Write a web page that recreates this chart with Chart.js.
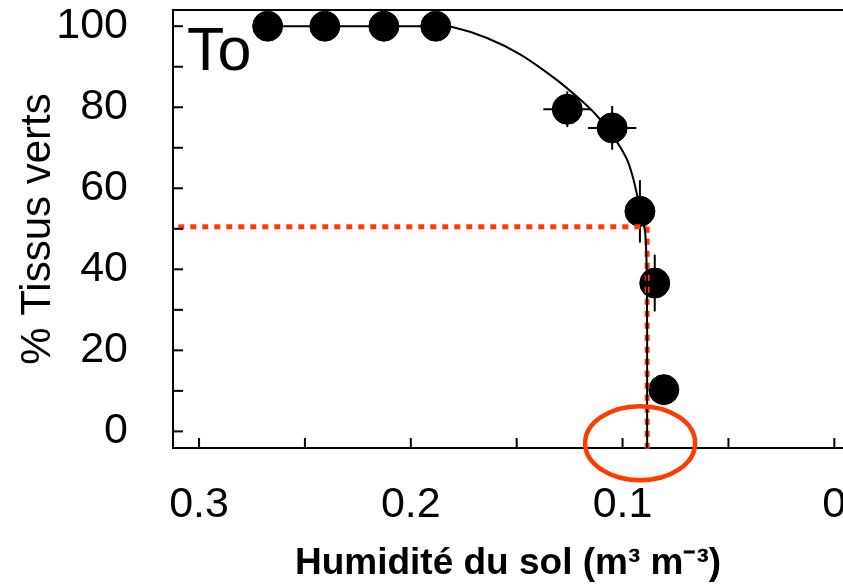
<!DOCTYPE html>
<html>
<head>
<meta charset="utf-8">
<script src="https://cdn.jsdelivr.net/npm/chart.js@4.4.0/dist/chart.umd.min.js"></script>
<style>
  html, body { margin: 0; padding: 0; background: #fff; }
  #wrap { width: 843px; height: 588px; }
</style>
</head>
<body>
<div id="wrap"><canvas id="soilChart" width="843" height="588"></canvas></div>
<script>
// measured points (soil moisture vs % green tissue) + error bars
const moisture    = [0.2676, 0.2406, 0.2127, 0.1882, 0.1261, 0.1049, 0.0918, 0.0848, 0.0805];
const greenTissue = [100, 100, 100, 100, 79.5, 74.9, 54.3, 36.6, 10.3];
const errMoisture = [0, 0, 0, 0, 0.0113, 0.0114, 0, 0, 0];
const errGreen    = [0, 0, 0, 0, 4.4, 5.4, 7.7, 7, 0];

// fitted curve
const fitMoisture = [0.2676, 0.2200, 0.1882, 0.1804, 0.1640, 0.1482, 0.1325, 0.1200, 0.1121, 0.1040, 0.0979, 0.0950, 0.0932, 0.0910, 0.0893, 0.0886, 0.0884, 0.0884, 0.0884];
const fitGreen    = [100, 100, 100, 99.8, 97.1, 93.0, 87.3, 81.9, 77.9, 72.5, 67.1, 62.5, 58.5, 53.5, 49, 40, 25, 10, -4.1];

// 50% threshold lines
const halfLevel = 50.5;
const halfMoisture = 0.0884;
const guideStart = 0.3098;
const guideBottom = -5.5;

// tick label values
const xLabelTicks = [0.3, 0.2, 0.1, 0];
const yLabelTicks = [0, 20, 40, 60, 80, 100];

const RED = '#ff3c00';
const FONT = '"Liberation Sans", Arial, sans-serif';

const toXY = (xs, ys) => xs.map((x, i) => ({ x: x, y: ys[i] }));

// inward ticks, top frame line, error bars, "To" label and the red ellipse
const decorations = {
  id: 'decorations',
  beforeDatasetsDraw(chart) {
    const ctx = chart.ctx;
    const xs = chart.scales.x, ys = chart.scales.y;
    ctx.save();
    ctx.strokeStyle = '#000';
    ctx.lineWidth = 2;
    moisture.forEach((m, i) => {
      const px = xs.getPixelForValue(m), py = ys.getPixelForValue(greenTissue[i]);
      if (errMoisture[i]) {
        ctx.beginPath();
        ctx.moveTo(xs.getPixelForValue(m - errMoisture[i]), py);
        ctx.lineTo(xs.getPixelForValue(m + errMoisture[i]), py);
        ctx.stroke();
      }
      if (errGreen[i]) {
        ctx.beginPath();
        ctx.moveTo(px, ys.getPixelForValue(greenTissue[i] - errGreen[i]));
        ctx.lineTo(px, ys.getPixelForValue(greenTissue[i] + errGreen[i]));
        ctx.stroke();
      }
    });
    ctx.restore();
  },
  afterDraw(chart) {
    const ctx = chart.ctx;
    const area = chart.chartArea;
    const xs = chart.scales.x, ys = chart.scales.y;
    ctx.save();
    ctx.strokeStyle = '#000';
    ctx.lineWidth = 2;
    // ticks pointing inside the plot
    xs.ticks.forEach(t => {
      const px = xs.getPixelForValue(t.value);
      ctx.beginPath();
      ctx.moveTo(px, area.bottom);
      ctx.lineTo(px, area.bottom - 10);
      ctx.stroke();
    });
    ys.ticks.forEach(t => {
      const py = ys.getPixelForValue(t.value);
      ctx.beginPath();
      ctx.moveTo(area.left, py);
      ctx.lineTo(area.left + 10, py);
      ctx.stroke();
    });
    // top frame
    ctx.beginPath();
    ctx.moveTo(area.left - 1, area.top);
    ctx.lineTo(area.right, area.top);
    ctx.stroke();

    // panel label
    ctx.fillStyle = '#000';
    ctx.font = '61px ' + FONT;
    ctx.textBaseline = 'alphabetic';
    ctx.fillText('To', area.left + 14, area.top + 60);

    // red ellipse around the threshold
    ctx.strokeStyle = RED;
    ctx.lineWidth = 4.5;
    ctx.beginPath();
    ctx.ellipse(xs.getPixelForValue(0.0917), ys.getPixelForValue(-2.9), 55, 37, 0, 0, Math.PI * 2);
    ctx.stroke();
    ctx.restore();
  }
};

new Chart(document.getElementById('soilChart').getContext('2d'), {
  type: 'scatter',
  data: {
    datasets: [
      {
        data: toXY(moisture, greenTissue),
        backgroundColor: '#000',
        borderColor: '#000',
        pointRadius: 15,
        pointHoverRadius: 15,
        clip: false,
        order: 3
      },
      {
        type: 'line',
        data: [{ x: guideStart, y: halfLevel }, { x: halfMoisture, y: halfLevel }],
        borderColor: RED,
        borderWidth: 5,
        borderDash: [6, 6],
        pointRadius: 0,
        clip: false,
        order: 2
      },
      {
        type: 'line',
        data: [{ x: halfMoisture, y: halfLevel }, { x: halfMoisture, y: guideBottom }],
        borderColor: RED,
        borderWidth: 5,
        borderDash: [6, 6],
        pointRadius: 0,
        clip: false,
        order: 2
      },
      {
        type: 'line',
        data: toXY(fitMoisture, fitGreen),
        borderColor: '#000',
        borderWidth: 2,
        pointRadius: 0,
        tension: 0.3,
        fill: false,
        order: 1
      }
    ]
  },
  options: {
    responsive: false,
    animation: false,
    layout: { autoPadding: false, padding: { left: 0, right: 0, top: 10, bottom: 0 } },
    plugins: {
      legend: { display: false },
      tooltip: { enabled: false }
    },
    scales: {
      x: {
        type: 'linear',
        reverse: true,
        min: -0.0041,
        max: 0.3123,
        grid: { display: false },
        border: { display: true, color: '#000', width: 2 },
        ticks: {
          stepSize: 0.05,
          includeBounds: false,
          autoSkip: false,
          maxRotation: 0,
          padding: 23,
          color: '#000',
          font: { family: FONT, size: 43 },
          callback: v => {
            const hit = xLabelTicks.find(t => Math.abs(t - v) < 1e-6);
            if (hit === undefined) return '';
            return hit === 0 ? '0' : hit.toFixed(1);
          }
        },
        title: {
          display: true,
          text: 'Humidité du sol (m³ m⁻³)',
          color: '#000',
          font: { family: FONT, size: 37, weight: 'bold' },
          padding: { top: 0, bottom: 2 }
        },
        afterFit: s => { s.height = 140; s.paddingLeft = 0; s.paddingRight = 0; }
      },
      y: {
        min: -4.1,
        max: 104,
        grid: { display: false },
        border: { display: true, color: '#000', width: 2 },
        ticks: {
          stepSize: 10,
          includeBounds: false,
          autoSkip: false,
          padding: 37,
          color: '#000',
          font: { family: FONT, size: 43 },
          callback: v => yLabelTicks.includes(Math.round(v)) && Math.abs(v - Math.round(v)) < 1e-6 ? String(Math.round(v)) : ''
        },
        title: {
          display: true,
          text: '% Tissus verts',
          color: '#000',
          font: { family: FONT, size: 42 },
          padding: { top: 13, bottom: 0 }
        },
        afterFit: s => { s.width = 173; s.paddingTop = 0; s.paddingBottom = 0; }
      }
    }
  },
  plugins: [decorations]
});
</script>
</body>
</html>
